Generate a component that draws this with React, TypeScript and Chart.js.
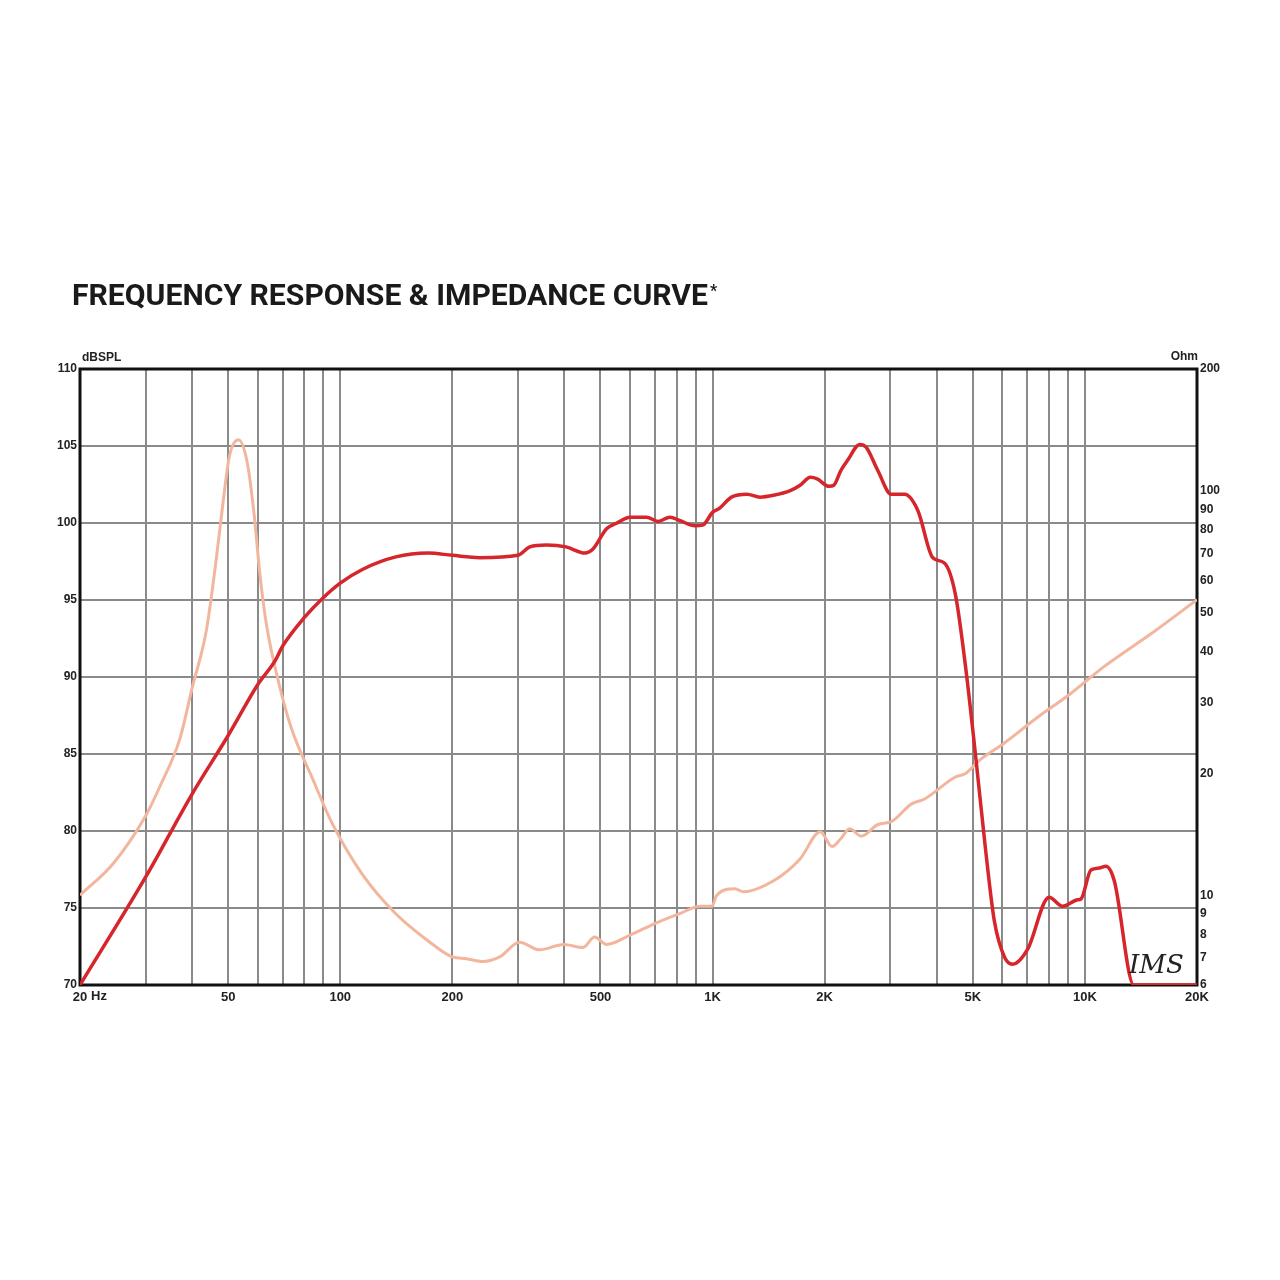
import React, { useEffect, useRef } from 'react';
import { Chart, registerables } from 'chart.js';

Chart.register(...registerables);

const TITLE = 'FREQUENCY RESPONSE & IMPEDANCE CURVE';
const LEFT_UNIT = 'dBSPL';
const RIGHT_UNIT = 'Ohm';

const splFreq = [20, 30, 40, 50, 60, 67, 70, 80, 90, 100, 115, 141, 172, 200, 237, 300, 323, 358, 404, 454, 478, 519, 552, 600, 665, 714, 768, 818, 897, 940, 1000, 1045, 1124, 1237, 1341, 1458, 1616, 1718, 1831, 1909, 2053, 2117, 2210, 2310, 2482, 2584, 2780, 3019, 3278, 3560, 3904, 4200, 4487, 4780, 5080, 5404, 5710, 6080, 6395, 7007, 8013, 8707, 9560, 9760, 10380, 10930, 11380, 11990, 13530, 20000];
const splDb = [70, 77.0, 82.4, 86.2, 89.5, 91.1, 92.0, 93.85, 95.15, 96.1, 97.0, 97.8, 98.05, 97.9, 97.75, 97.9, 98.45, 98.57, 98.45, 98.05, 98.33, 99.63, 99.98, 100.38, 100.38, 100.1, 100.38, 100.15, 99.82, 99.86, 100.69, 100.97, 101.68, 101.87, 101.68, 101.8, 102.1, 102.45, 102.97, 102.87, 102.38, 102.45, 103.4, 104.1, 105.1, 104.92, 103.39, 101.86, 101.86, 100.8, 97.74, 97.39, 95.38, 90.67, 85.01, 78.89, 74.17, 71.82, 71.35, 72.29, 75.7, 75.11, 75.53, 75.58, 77.47, 77.59, 77.71, 76.77, 70, 70];

const impFreq = [20, 24.6, 30, 32.8, 37.1, 40, 43.7, 46.5, 48.4, 50.4, 53.3, 56.3, 58.7, 60.9, 63.5, 68.6, 74, 84.3, 95, 114.4, 141, 172.6, 200, 218, 242, 268, 303, 343, 398, 449, 482, 519, 600, 707, 816, 926, 996, 1025, 1148, 1209, 1458, 1718, 1947, 2094, 2210, 2334, 2508, 2780, 3019, 3415, 3710, 4487, 4780, 5190, 6080, 7446, 9144, 11230, 15250, 20000];
const impOhm = [10.0, 12.0, 15.7, 18.6, 24.4, 32.5, 45.2, 68.3, 93, 121.9, 133.7, 117, 87.5, 61.6, 46.1, 33.1, 25.8, 19.4, 15.1, 11.3, 9.0, 7.7, 7.04, 6.97, 6.86, 7.04, 7.65, 7.33, 7.56, 7.43, 7.89, 7.56, 7.97, 8.55, 9.01, 9.39, 9.39, 9.99, 10.38, 10.2, 10.86, 12.3, 14.36, 13.2, 13.8, 14.6, 14.0, 14.96, 15.2, 16.8, 17.3, 19.6, 20.0, 21.5, 23.8, 27.5, 31.5, 36.7, 44.7, 53.8];

const freqGrid = [20, 30, 40, 50, 60, 70, 80, 90, 100, 200, 300, 400, 500, 600, 700, 800, 900, 1000, 2000, 3000, 4000, 5000, 6000, 7000, 8000, 9000, 10000, 20000];
const freqLabels: Record<number, string> = { 20: '20', 50: '50', 100: '100', 200: '200', 500: '500', 1000: '1K', 2000: '2K', 5000: '5K', 10000: '10K', 20000: '20K' };
const ohmTicks = [6, 7, 8, 9, 10, 20, 30, 40, 50, 60, 70, 80, 90, 100, 200];

const FONT = "'Liberation Sans', Arial, sans-serif";

const decor = {
  id: 'decor',
  beforeDatasetsDraw(chart: any) {
    const { ctx, chartArea: a } = chart;
    ctx.save();
    ctx.strokeStyle = '#111';
    ctx.lineWidth = 3;
    ctx.strokeRect(a.left, a.top, a.right - a.left, a.bottom - a.top);
    ctx.restore();
  },
  afterDraw(chart: any) {
    const { ctx, chartArea: a } = chart;
    ctx.save();
    ctx.fillStyle = '#1a1a1a';
    ctx.font = "bold 29px Roboto, 'Liberation Sans', sans-serif";
    ctx.textBaseline = 'alphabetic';
    ctx.textAlign = 'left';
    const w = ctx.measureText(TITLE).width;
    const target = 636;
    ctx.save();
    ctx.translate(72, 305);
    ctx.scale(target / w, 1);
    ctx.fillText(TITLE, 0, 0);
    ctx.restore();
    ctx.font = "bold 16px Roboto, sans-serif";
    ctx.fillText('*', 72 + target + 2, 296);
    ctx.font = `bold 12px ${FONT}`;
    ctx.fillStyle = '#222';
    ctx.textBaseline = 'middle';
    ctx.textAlign = 'left';
    ctx.fillText(LEFT_UNIT, a.left + 2, a.top - 11);
    ctx.textAlign = 'right';
    ctx.fillText(RIGHT_UNIT, a.right + 1, a.top - 12);
    ctx.font = `bold 13px ${FONT}`;
    ctx.textAlign = 'left';
    ctx.fillText('Hz', a.left + 11, a.bottom + 11);
    ctx.font = "italic 26px 'DejaVu Serif', serif";
    ctx.fillStyle = '#222';
    ctx.textBaseline = 'alphabetic';
    ctx.textAlign = 'left';
    ctx.fillText('IMS', a.right - 68, a.bottom - 12);
    ctx.restore();
  },
};

export default function App() {
  const ref = useRef<HTMLCanvasElement>(null);
  useEffect(() => {
    if (!ref.current) return;
    const chart = new Chart(ref.current, {
      type: 'line',
      data: {
        datasets: [
          {
            label: 'SPL',
            data: splFreq.map((f, i) => ({ x: f, y: splDb[i] })),
            borderColor: '#d6252b',
            borderWidth: 3.5,
            pointRadius: 0,
            cubicInterpolationMode: 'monotone',
            yAxisID: 'y',
          },
          {
            label: 'Impedance',
            data: impFreq.map((f, i) => ({ x: f, y: impOhm[i] })),
            borderColor: '#f2b69e',
            borderWidth: 3,
            pointRadius: 0,
            cubicInterpolationMode: 'monotone',
            yAxisID: 'y2',
          },
        ],
      },
      options: {
        animation: false,
        responsive: false,
        devicePixelRatio: 1,
        layout: { padding: { top: 369, left: 0, right: 0, bottom: 0 } },
        plugins: { legend: { display: false }, tooltip: { enabled: false }, title: { display: false } },
        scales: {
          x: {
            type: 'logarithmic',
            min: 20,
            max: 20000,
            afterBuildTicks: (s: any) => { s.ticks = freqGrid.map((v) => ({ value: v })); },
            afterFit: (s: any) => { s.height = 295; },
            ticks: {
              autoSkip: false,
              maxRotation: 0,
              padding: 5,
              color: '#222',
              font: { family: FONT, weight: 'bold', size: 13 },
              callback: (v: any) => freqLabels[Number(v)] ?? '',
            },
            grid: { color: '#8a8a8a', lineWidth: 2, drawTicks: false },
            border: { display: false },
          },
          y: {
            type: 'linear',
            position: 'left',
            min: 70,
            max: 110,
            afterFit: (s: any) => { s.width = 80; },
            ticks: {
              stepSize: 5,
              padding: 3,
              color: '#222',
              font: { family: FONT, weight: 'bold', size: 12 },
            },
            grid: { color: '#8a8a8a', lineWidth: 2, drawTicks: false },
            border: { display: false },
          },
          y2: {
            type: 'logarithmic',
            position: 'right',
            min: 6,
            max: 200,
            afterBuildTicks: (s: any) => { s.ticks = ohmTicks.map((v) => ({ value: v })); },
            afterFit: (s: any) => { s.width = 83; },
            ticks: {
              autoSkip: false,
              padding: 3,
              color: '#222',
              font: { family: FONT, weight: 'bold', size: 12 },
              callback: (v: any) => String(v),
            },
            grid: { display: false, drawTicks: false },
            border: { display: false },
          },
        },
      },
      plugins: [decor],
    } as any);
    return () => chart.destroy();
  }, []);
  return (
    <div style={{ position: 'absolute', left: 0, top: 0, width: 1280, height: 1280, background: '#fff' }}>
      <canvas ref={ref} width={1280} height={1280} style={{ width: 1280, height: 1280, display: 'block' }} />
    </div>
  );
}
